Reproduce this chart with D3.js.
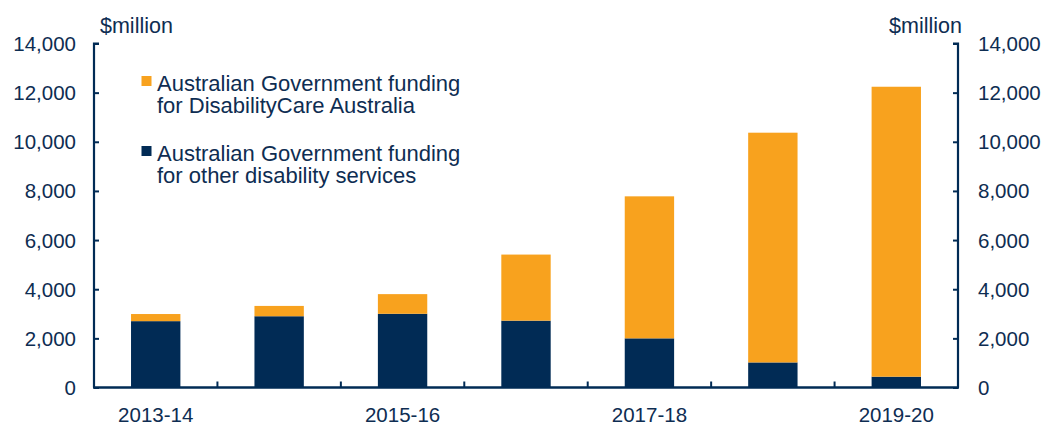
<!DOCTYPE html>
<html><head><meta charset="utf-8">
<script src="https://cdn.jsdelivr.net/npm/d3@7"></script>
<style>body{margin:0;background:#fff}svg{display:block}text{font-family:"Liberation Sans",Arial,sans-serif;fill:#0e2d52}</style>
</head><body><svg id="c" width="1045" height="424"></svg>
<script>
const categories = ["2013-14","2014-15","2015-16","2016-17","2017-18","2018-19","2019-20"];
const otherServices = [2700, 2900, 3000, 2720, 2000, 1020, 440];
const disabilityCare = [290, 420, 800, 2690, 5780, 9350, 11800];
const xTickLabels = ["2013-14","2015-16","2017-18","2019-20"];
const yTicks = [0,2000,4000,6000,8000,10000,12000,14000];
const seriesNames = ["Australian Government funding|for DisabilityCare Australia","Australian Government funding|for other disability services"];

const NAVY = "#012b55", ORANGE = "#f8a21e";
const svg = d3.select("#c");
const L = 94, R = 958, T = 43.5, B = 387.5;
const x = d3.scaleBand().domain(categories).range([L, R]).paddingInner(0.6).paddingOuter(0.3);
const y = d3.scaleLinear().domain([0, 14000]).range([B, T]);

const data = categories.map((c,i)=>({cat:c, other:otherServices[i], dca:disabilityCare[i]}));
const stack = d3.stack().keys(["other","dca"])(data);
const colors = {other: NAVY, dca: ORANGE};
svg.append("g").selectAll("g").data(stack).join("g")
  .attr("fill", d=>colors[d.key])
  .selectAll("rect").data(d=>d).join("rect")
  .attr("x", d=>x(d.data.cat)).attr("width", x.bandwidth())
  .attr("y", d=>y(d[1])).attr("height", d=>y(d[0])-y(d[1]));

// Left axis
const fmt = d3.format(",");
const gl = svg.append("g").attr("transform",`translate(${L},0)`)
  .call(d3.axisRight(y).tickValues(yTicks).tickSize(5).tickFormat(""));
gl.select(".domain").attr("stroke", NAVY).attr("stroke-width", 2.2).attr("d", `M5,${T}H0V${B}`);
gl.selectAll(".tick line").attr("stroke", NAVY).attr("stroke-width", 2);
svg.append("g").selectAll("text").data(yTicks).join("text")
  .attr("x", 76).attr("y", d=>y(d)+7.5).attr("text-anchor","end")
  .style("font-size","20.5px").text(d=>fmt(d));

// Right axis
const gr = svg.append("g").attr("transform",`translate(${R},0)`)
  .call(d3.axisLeft(y).tickValues(yTicks).tickSize(5).tickFormat(""));
gr.select(".domain").attr("stroke", NAVY).attr("stroke-width", 2.2).attr("d", `M-5,${T}H0V${B}`);
gr.selectAll(".tick line").attr("stroke", NAVY).attr("stroke-width", 2);
svg.append("g").selectAll("text").data(yTicks).join("text")
  .attr("x", 978).attr("y", d=>y(d)+7.5).attr("text-anchor","start")
  .style("font-size","20.5px").text(d=>fmt(d));

// X axis
svg.append("line").attr("x1", L-1).attr("x2", R+1).attr("y1", B).attr("y2", B)
  .attr("stroke", NAVY).attr("stroke-width", 2.6);
const step = x.step();
const bounds = categories.slice(1).map(c => x(c) - (step - x.bandwidth())/2);
svg.append("g").selectAll("line").data(bounds).join("line")
  .attr("x1", d=>d).attr("x2", d=>d).attr("y1", B).attr("y2", B-6)
  .attr("stroke", NAVY).attr("stroke-width", 2);
svg.append("g").selectAll("text").data(xTickLabels).join("text")
  .attr("x", d=>x(d)+x.bandwidth()/2).attr("y", 421.5).attr("text-anchor","middle")
  .style("font-size","20.5px").text(d=>d);

// unit labels
svg.append("text").attr("x", 100).attr("y", 33).style("font-size","21.5px").text("$million");
svg.append("text").attr("x", 962).attr("y", 33).attr("text-anchor","end").style("font-size","21.5px").text("$million");

// Legend
const legend = [{c: ORANGE, y: 76, t: seriesNames[0]}, {c: NAVY, y: 146, t: seriesNames[1]}];
legend.forEach(l => {
  svg.append("rect").attr("x", 141.5).attr("y", l.y).attr("width", 10).attr("height", 10).attr("fill", l.c);
  const t = svg.append("text").attr("x", 157).attr("y", l.y + 14.5).style("font-size","22px");
  l.t.split("|").forEach((s,i)=> t.append("tspan").attr("x", 157).attr("dy", i ? 22.5 : 0).text(s));
});
</script></body></html>
